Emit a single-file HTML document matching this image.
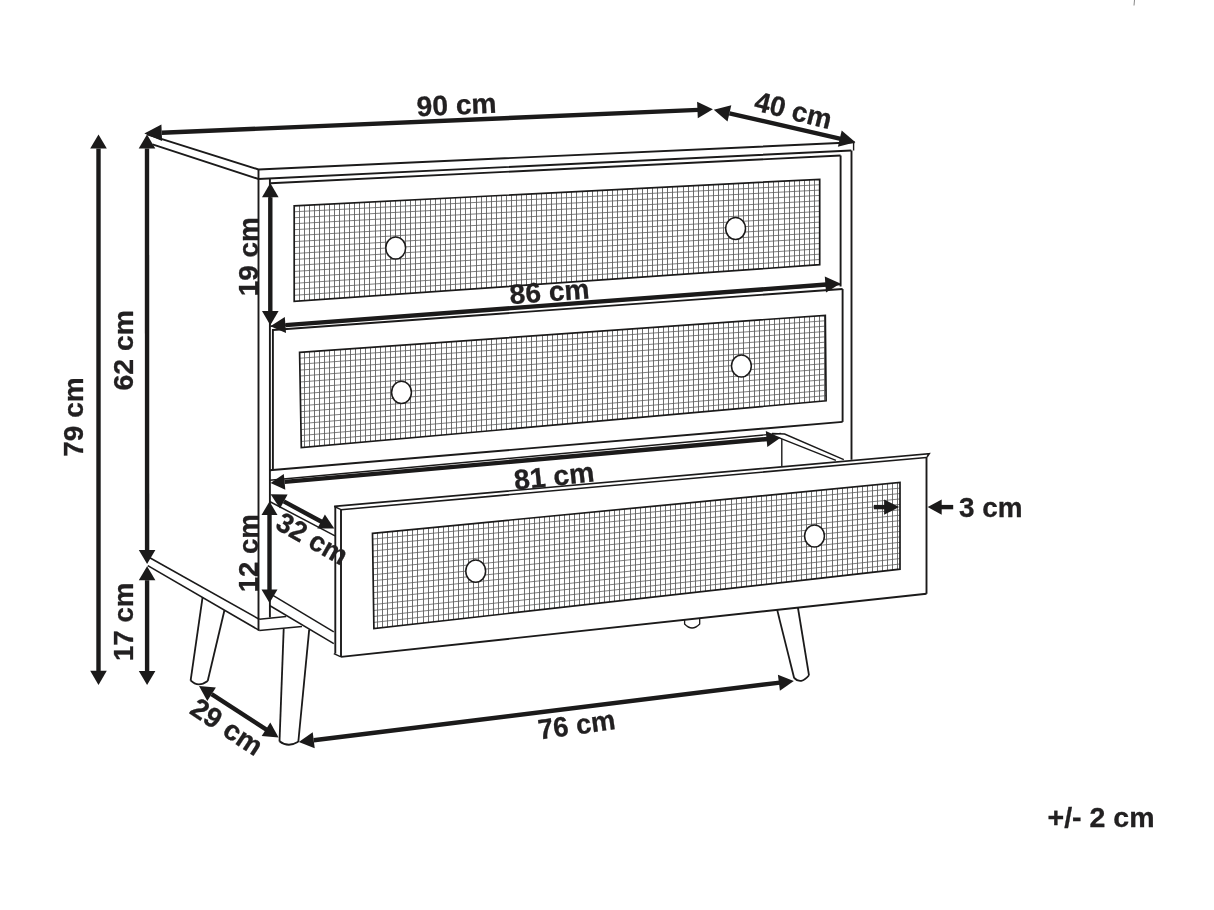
<!DOCTYPE html>
<html><head><meta charset="utf-8"><style>
html,body{margin:0;padding:0;background:#fff;width:1214px;height:910px;overflow:hidden}
svg{display:block;will-change:transform}
</style></head><body>
<svg width="1214" height="910" viewBox="0 0 1214 910">
<rect width="1214" height="910" fill="#fff"/>
<polyline points="147.0,134.4 258.5,169.5 854.6,142.3" fill="none" stroke="#1b1a1a" stroke-width="1.9" stroke-linejoin="miter"/>
<polyline points="152.5,144.4 258.5,179.0 851.3,150.5" fill="none" stroke="#1b1a1a" stroke-width="1.9" stroke-linejoin="miter"/>
<line x1="258.5" y1="169.5" x2="258.5" y2="630.6" stroke="#1b1a1a" stroke-width="1.9"/>
<line x1="853.6" y1="142.3" x2="853.6" y2="150.5" stroke="#1b1a1a" stroke-width="1.4"/>
<line x1="851.5" y1="150.5" x2="851.5" y2="459.8" stroke="#1b1a1a" stroke-width="1.9"/>
<line x1="269.9" y1="179.0" x2="269.9" y2="617.4" stroke="#1b1a1a" stroke-width="1.9"/>
<line x1="270.3" y1="183.3" x2="840.6" y2="155.5" stroke="#1b1a1a" stroke-width="1.9"/>
<line x1="840.6" y1="155.5" x2="840.6" y2="286.5" stroke="#1b1a1a" stroke-width="1.9"/>
<line x1="270.4" y1="326.2" x2="840.4" y2="284.5" stroke="#1b1a1a" stroke-width="1.6"/>
<clipPath id="cp1"><polygon points="294.2,205.9 819.7,179.3 819.7,264.7 294.2,301.4"/></clipPath>
<g clip-path="url(#cp1)"><path d="M299.50 177.3V303.4M304.50 177.3V303.4M309.50 177.3V303.4M314.50 177.3V303.4M319.50 177.3V303.4M324.50 177.3V303.4M329.50 177.3V303.4M334.50 177.3V303.4M339.50 177.3V303.4M344.50 177.3V303.4M349.50 177.3V303.4M354.50 177.3V303.4M359.50 177.3V303.4M364.50 177.3V303.4M369.50 177.3V303.4M375.50 177.3V303.4M380.50 177.3V303.4M385.50 177.3V303.4M390.50 177.3V303.4M395.50 177.3V303.4M400.50 177.3V303.4M405.50 177.3V303.4M410.50 177.3V303.4M415.50 177.3V303.4M420.50 177.3V303.4M425.50 177.3V303.4M430.50 177.3V303.4M435.50 177.3V303.4M440.50 177.3V303.4M445.50 177.3V303.4M450.50 177.3V303.4M455.50 177.3V303.4M460.50 177.3V303.4M465.50 177.3V303.4M470.50 177.3V303.4M476.50 177.3V303.4M481.50 177.3V303.4M486.50 177.3V303.4M491.50 177.3V303.4M496.50 177.3V303.4M501.50 177.3V303.4M506.50 177.3V303.4M511.50 177.3V303.4M516.50 177.3V303.4M521.50 177.3V303.4M526.50 177.3V303.4M531.50 177.3V303.4M536.50 177.3V303.4M541.50 177.3V303.4M546.50 177.3V303.4M551.50 177.3V303.4M556.50 177.3V303.4M561.50 177.3V303.4M566.50 177.3V303.4M571.50 177.3V303.4M576.50 177.3V303.4M582.50 177.3V303.4M587.50 177.3V303.4M592.50 177.3V303.4M597.50 177.3V303.4M602.50 177.3V303.4M607.50 177.3V303.4M612.50 177.3V303.4M617.50 177.3V303.4M622.50 177.3V303.4M627.50 177.3V303.4M632.50 177.3V303.4M637.50 177.3V303.4M642.50 177.3V303.4M647.50 177.3V303.4M652.50 177.3V303.4M657.50 177.3V303.4M662.50 177.3V303.4M667.50 177.3V303.4M672.50 177.3V303.4M677.50 177.3V303.4M683.50 177.3V303.4M688.50 177.3V303.4M693.50 177.3V303.4M698.50 177.3V303.4M703.50 177.3V303.4M708.50 177.3V303.4M713.50 177.3V303.4M718.50 177.3V303.4M723.50 177.3V303.4M728.50 177.3V303.4M733.50 177.3V303.4M738.50 177.3V303.4M743.50 177.3V303.4M748.50 177.3V303.4M753.50 177.3V303.4M758.50 177.3V303.4M763.50 177.3V303.4M768.50 177.3V303.4M773.50 177.3V303.4M778.50 177.3V303.4M784.50 177.3V303.4M789.50 177.3V303.4M794.50 177.3V303.4M799.50 177.3V303.4M804.50 177.3V303.4M809.50 177.3V303.4M814.50 177.3V303.4M819.50 177.3V303.4" stroke="#6e6e6e" stroke-width="1.0" fill="none"/><path d="M292.2 211.87L821.7 184.64M292.2 217.84L821.7 189.98M292.2 223.81L821.7 195.31M292.2 229.78L821.7 200.65M292.2 235.74L821.7 205.99M292.2 241.71L821.7 211.32M292.2 247.68L821.7 216.66M292.2 253.65L821.7 222.00M292.2 259.62L821.7 227.34M292.2 265.59L821.7 232.68M292.2 271.56L821.7 238.01M292.2 277.52L821.7 243.35M292.2 283.49L821.7 248.69M292.2 289.46L821.7 254.02M292.2 295.43L821.7 259.36" stroke="#5e5e5e" stroke-width="0.8" fill="none"/></g>
<polygon points="294.2,205.9 819.7,179.3 819.7,264.7 294.2,301.4" fill="none" stroke="#1b1a1a" stroke-width="1.7"/>
<ellipse cx="395.7" cy="248" rx="9.9" ry="11.1" fill="#fff" stroke="#1b1a1a" stroke-width="1.5"/>
<ellipse cx="735.6" cy="228.5" rx="9.9" ry="11.1" fill="#fff" stroke="#1b1a1a" stroke-width="1.5"/>
<line x1="272.9" y1="330.0" x2="842.6" y2="289.0" stroke="#1b1a1a" stroke-width="1.9"/>
<line x1="272.9" y1="329.0" x2="272.9" y2="470.2" stroke="#1b1a1a" stroke-width="1.9"/>
<line x1="842.6" y1="289.0" x2="842.6" y2="421.9" stroke="#1b1a1a" stroke-width="1.9"/>
<line x1="269.6" y1="470.2" x2="842.6" y2="421.9" stroke="#1b1a1a" stroke-width="1.9"/>
<clipPath id="cp2"><polygon points="299.6,352.4 825.3,315.3 826.1,400.8 301.3,447.6"/></clipPath>
<g clip-path="url(#cp2)"><path d="M304.50 313.3V449.6M309.50 313.3V449.6M314.50 313.3V449.6M319.50 313.3V449.6M324.50 313.3V449.6M329.50 313.3V449.6M334.50 313.3V449.6M340.50 313.3V449.6M345.50 313.3V449.6M350.50 313.3V449.6M355.50 313.3V449.6M360.50 313.3V449.6M365.50 313.3V449.6M370.50 313.3V449.6M375.50 313.3V449.6M380.50 313.3V449.6M385.50 313.3V449.6M390.50 313.3V449.6M395.50 313.3V449.6M400.50 313.3V449.6M405.50 313.3V449.6M410.50 313.3V449.6M415.50 313.3V449.6M420.50 313.3V449.6M425.50 313.3V449.6M430.50 313.3V449.6M435.50 313.3V449.6M441.50 313.3V449.6M446.50 313.3V449.6M451.50 313.3V449.6M456.50 313.3V449.6M461.50 313.3V449.6M466.50 313.3V449.6M471.50 313.3V449.6M476.50 313.3V449.6M481.50 313.3V449.6M486.50 313.3V449.6M491.50 313.3V449.6M496.50 313.3V449.6M501.50 313.3V449.6M506.50 313.3V449.6M511.50 313.3V449.6M516.50 313.3V449.6M521.50 313.3V449.6M526.50 313.3V449.6M531.50 313.3V449.6M536.50 313.3V449.6M542.50 313.3V449.6M547.50 313.3V449.6M552.50 313.3V449.6M557.50 313.3V449.6M562.50 313.3V449.6M567.50 313.3V449.6M572.50 313.3V449.6M577.50 313.3V449.6M582.50 313.3V449.6M587.50 313.3V449.6M592.50 313.3V449.6M597.50 313.3V449.6M602.50 313.3V449.6M607.50 313.3V449.6M612.50 313.3V449.6M617.50 313.3V449.6M622.50 313.3V449.6M627.50 313.3V449.6M632.50 313.3V449.6M637.50 313.3V449.6M642.50 313.3V449.6M648.50 313.3V449.6M653.50 313.3V449.6M658.50 313.3V449.6M663.50 313.3V449.6M668.50 313.3V449.6M673.50 313.3V449.6M678.50 313.3V449.6M683.50 313.3V449.6M688.50 313.3V449.6M693.50 313.3V449.6M698.50 313.3V449.6M703.50 313.3V449.6M708.50 313.3V449.6M713.50 313.3V449.6M718.50 313.3V449.6M723.50 313.3V449.6M728.50 313.3V449.6M733.50 313.3V449.6M738.50 313.3V449.6M743.50 313.3V449.6M749.50 313.3V449.6M754.50 313.3V449.6M759.50 313.3V449.6M764.50 313.3V449.6M769.50 313.3V449.6M774.50 313.3V449.6M779.50 313.3V449.6M784.50 313.3V449.6M789.50 313.3V449.6M794.50 313.3V449.6M799.50 313.3V449.6M804.50 313.3V449.6M809.50 313.3V449.6M814.50 313.3V449.6M819.50 313.3V449.6M824.50 313.3V449.6" stroke="#6e6e6e" stroke-width="1.0" fill="none"/><path d="M297.7 358.35L827.3 320.64M297.8 364.30L827.4 325.99M297.9 370.25L827.4 331.33M298.0 376.20L827.5 336.68M298.1 382.15L827.5 342.02M298.2 388.10L827.6 347.36M298.3 394.05L827.6 352.71M298.5 400.00L827.7 358.05M298.6 405.95L827.8 363.39M298.7 411.90L827.8 368.74M298.8 417.85L827.9 374.08M298.9 423.80L827.9 379.43M299.0 429.75L828.0 384.77M299.1 435.70L828.0 390.11M299.2 441.65L828.1 395.46" stroke="#5e5e5e" stroke-width="0.8" fill="none"/></g>
<polygon points="299.6,352.4 825.3,315.3 826.1,400.8 301.3,447.6" fill="none" stroke="#1b1a1a" stroke-width="1.7"/>
<ellipse cx="401.5" cy="392.4" rx="9.9" ry="11.1" fill="#fff" stroke="#1b1a1a" stroke-width="1.5"/>
<ellipse cx="741.4" cy="366" rx="9.9" ry="11.1" fill="#fff" stroke="#1b1a1a" stroke-width="1.5"/>
<line x1="269.6" y1="480.3" x2="781.0" y2="433.4" stroke="#1b1a1a" stroke-width="1.4"/>
<polyline points="772.0,433.4 784.6,434.1 843.8,459.6" fill="none" stroke="#1b1a1a" stroke-width="1.5" stroke-linejoin="miter"/>
<line x1="777.4" y1="437.1" x2="835.9" y2="460.4" stroke="#1b1a1a" stroke-width="1.5"/>
<line x1="781.8" y1="439.0" x2="781.8" y2="466.0" stroke="#1b1a1a" stroke-width="1.4"/>
<line x1="269.6" y1="501.5" x2="335.0" y2="535.8" stroke="#1b1a1a" stroke-width="1.5"/>
<line x1="269.6" y1="593.3" x2="333.8" y2="631.9" stroke="#1b1a1a" stroke-width="1.5"/>
<line x1="269.6" y1="605.5" x2="333.8" y2="643.7" stroke="#1b1a1a" stroke-width="1.5"/>
<polyline points="334.2,506.4 929.2,453.8 927.0,457.0" fill="none" stroke="#1b1a1a" stroke-width="1.6" stroke-linejoin="miter"/>
<line x1="341.0" y1="509.7" x2="926.5" y2="457.5" stroke="#1b1a1a" stroke-width="1.6"/>
<line x1="334.2" y1="506.4" x2="341.0" y2="509.7" stroke="#1b1a1a" stroke-width="1.4"/>
<line x1="335.3" y1="506.7" x2="335.3" y2="653.6" stroke="#1b1a1a" stroke-width="1.9"/>
<line x1="341.0" y1="509.4" x2="341.0" y2="656.9" stroke="#1b1a1a" stroke-width="1.9"/>
<line x1="333.8" y1="653.6" x2="341.0" y2="656.9" stroke="#1b1a1a" stroke-width="1.4"/>
<line x1="341.0" y1="656.9" x2="926.5" y2="593.8" stroke="#1b1a1a" stroke-width="1.9"/>
<line x1="926.5" y1="457.0" x2="926.5" y2="593.8" stroke="#1b1a1a" stroke-width="1.9"/>
<clipPath id="cp3"><polygon points="372.5,533.3 900.0,482.5 900.0,569.2 373.9,628.6"/></clipPath>
<g clip-path="url(#cp3)"><path d="M377.50 480.5V630.6M382.50 480.5V630.6M387.50 480.5V630.6M392.50 480.5V630.6M397.50 480.5V630.6M402.50 480.5V630.6M407.50 480.5V630.6M412.50 480.5V630.6M417.50 480.5V630.6M423.50 480.5V630.6M428.50 480.5V630.6M433.50 480.5V630.6M438.50 480.5V630.6M443.50 480.5V630.6M448.50 480.5V630.6M453.50 480.5V630.6M458.50 480.5V630.6M463.50 480.5V630.6M468.50 480.5V630.6M473.50 480.5V630.6M478.50 480.5V630.6M483.50 480.5V630.6M488.50 480.5V630.6M493.50 480.5V630.6M498.50 480.5V630.6M503.50 480.5V630.6M508.50 480.5V630.6M513.50 480.5V630.6M518.50 480.5V630.6M524.50 480.5V630.6M529.50 480.5V630.6M534.50 480.5V630.6M539.50 480.5V630.6M544.50 480.5V630.6M549.50 480.5V630.6M554.50 480.5V630.6M559.50 480.5V630.6M564.50 480.5V630.6M569.50 480.5V630.6M574.50 480.5V630.6M579.50 480.5V630.6M584.50 480.5V630.6M589.50 480.5V630.6M594.50 480.5V630.6M599.50 480.5V630.6M604.50 480.5V630.6M609.50 480.5V630.6M614.50 480.5V630.6M619.50 480.5V630.6M624.50 480.5V630.6M630.50 480.5V630.6M635.50 480.5V630.6M640.50 480.5V630.6M645.50 480.5V630.6M650.50 480.5V630.6M655.50 480.5V630.6M660.50 480.5V630.6M665.50 480.5V630.6M670.50 480.5V630.6M675.50 480.5V630.6M680.50 480.5V630.6M685.50 480.5V630.6M690.50 480.5V630.6M695.50 480.5V630.6M700.50 480.5V630.6M705.50 480.5V630.6M710.50 480.5V630.6M715.50 480.5V630.6M720.50 480.5V630.6M725.50 480.5V630.6M731.50 480.5V630.6M736.50 480.5V630.6M741.50 480.5V630.6M746.50 480.5V630.6M751.50 480.5V630.6M756.50 480.5V630.6M761.50 480.5V630.6M766.50 480.5V630.6M771.50 480.5V630.6M776.50 480.5V630.6M781.50 480.5V630.6M786.50 480.5V630.6M791.50 480.5V630.6M796.50 480.5V630.6M801.50 480.5V630.6M806.50 480.5V630.6M811.50 480.5V630.6M816.50 480.5V630.6M821.50 480.5V630.6M826.50 480.5V630.6M832.50 480.5V630.6M837.50 480.5V630.6M842.50 480.5V630.6M847.50 480.5V630.6M852.50 480.5V630.6M857.50 480.5V630.6M862.50 480.5V630.6M867.50 480.5V630.6M872.50 480.5V630.6M877.50 480.5V630.6M882.50 480.5V630.6M887.50 480.5V630.6M892.50 480.5V630.6M897.50 480.5V630.6" stroke="#6e6e6e" stroke-width="1.0" fill="none"/><path d="M370.6 539.26L902.0 487.92M370.7 545.21L902.0 493.34M370.8 551.17L902.0 498.76M370.9 557.12L902.0 504.18M370.9 563.08L902.0 509.59M371.0 569.04L902.0 515.01M371.1 574.99L902.0 520.43M371.2 580.95L902.0 525.85M371.3 586.91L902.0 531.27M371.4 592.86L902.0 536.69M371.5 598.82L902.0 542.11M371.5 604.77L902.0 547.53M371.6 610.73L902.0 552.94M371.7 616.69L902.0 558.36M371.8 622.64L902.0 563.78" stroke="#5e5e5e" stroke-width="0.8" fill="none"/></g>
<polygon points="372.5,533.3 900.0,482.5 900.0,569.2 373.9,628.6" fill="none" stroke="#1b1a1a" stroke-width="1.7"/>
<ellipse cx="475.7" cy="571.2" rx="9.9" ry="11.1" fill="#fff" stroke="#1b1a1a" stroke-width="1.5"/>
<ellipse cx="814.5" cy="536" rx="9.9" ry="11.1" fill="#fff" stroke="#1b1a1a" stroke-width="1.5"/>
<line x1="148.0" y1="556.8" x2="259.3" y2="619.3" stroke="#1b1a1a" stroke-width="1.6"/>
<line x1="147.8" y1="565.6" x2="259.3" y2="630.4" stroke="#1b1a1a" stroke-width="1.6"/>
<line x1="259.3" y1="619.3" x2="286.2" y2="616.4" stroke="#1b1a1a" stroke-width="1.5"/>
<line x1="259.3" y1="630.4" x2="302.0" y2="626.6" stroke="#1b1a1a" stroke-width="1.5"/>
<polyline points="202.6,597.2 190.6,680.6" fill="none" stroke="#1b1a1a" stroke-width="1.8" stroke-linejoin="miter"/>
<path d="M190.6 680.4 Q198 688 207.7 681" fill="none" stroke="#1b1a1a" stroke-width="1.8"/>
<polyline points="224.5,610.0 207.7,681.0" fill="none" stroke="#1b1a1a" stroke-width="1.8" stroke-linejoin="miter"/>
<line x1="283.7" y1="628.8" x2="279.5" y2="741.5" stroke="#1b1a1a" stroke-width="1.8"/>
<line x1="309.2" y1="629.6" x2="298.3" y2="742.0" stroke="#1b1a1a" stroke-width="1.8"/>
<path d="M279.5 741.2 Q288 748 298.3 741.8" fill="none" stroke="#1b1a1a" stroke-width="1.8"/>
<line x1="777.1" y1="609.6" x2="794.2" y2="678.2" stroke="#1b1a1a" stroke-width="1.8"/>
<line x1="797.9" y1="607.5" x2="809.0" y2="675.3" stroke="#1b1a1a" stroke-width="1.8"/>
<path d="M794.2 678 Q801 685 809 675.3" fill="none" stroke="#1b1a1a" stroke-width="1.8"/>
<path d="M684.6 619.6 V624 Q692 632 699.7 624 V617.9" fill="none" stroke="#1b1a1a" stroke-width="1.3"/>
<polygon points="98.5,685.0 90.2,670.8 106.8,670.8" fill="#1b1a1a"/>
<polygon points="98.5,134.4 106.8,148.6 90.2,148.6" fill="#1b1a1a"/>
<line x1="98.5" y1="148.6" x2="98.5" y2="671.8" stroke="#1b1a1a" stroke-width="4.4"/>
<polygon points="147.1,563.9 138.8,549.9 155.4,549.9" fill="#1b1a1a"/>
<polygon points="147.0,134.4 155.3,148.4 138.7,148.4" fill="#1b1a1a"/>
<line x1="147.0" y1="148.4" x2="147.1" y2="550.9" stroke="#1b1a1a" stroke-width="4.4"/>
<polygon points="147.1,685.0 138.8,671.0 155.4,671.0" fill="#1b1a1a"/>
<polygon points="147.1,566.2 155.4,580.2 138.8,580.2" fill="#1b1a1a"/>
<line x1="147.1" y1="580.2" x2="147.1" y2="672.0" stroke="#1b1a1a" stroke-width="4.4"/>
<polygon points="712.9,109.3 697.8,118.3 697.1,101.7" fill="#1b1a1a"/>
<polygon points="144.3,133.5 161.4,124.5 162.1,141.0" fill="#1b1a1a"/>
<line x1="161.8" y1="132.8" x2="698.4" y2="109.9" stroke="#1b1a1a" stroke-width="4.4"/>
<polygon points="855.4,142.3 837.9,146.8 841.7,130.6" fill="#1b1a1a"/>
<polygon points="713.8,109.7 731.3,105.2 727.5,121.4" fill="#1b1a1a"/>
<line x1="729.4" y1="113.3" x2="840.8" y2="138.9" stroke="#1b1a1a" stroke-width="4.4"/>
<polygon points="270.3,325.2 262.0,311.0 278.6,311.0" fill="#1b1a1a"/>
<polygon points="270.3,183.0 278.6,197.2 262.0,197.2" fill="#1b1a1a"/>
<line x1="270.3" y1="197.2" x2="270.3" y2="312.0" stroke="#1b1a1a" stroke-width="4.4"/>
<polygon points="840.4,283.5 826.0,292.6 824.8,276.6" fill="#1b1a1a"/>
<polygon points="270.4,326.2 284.8,317.1 286.0,333.1" fill="#1b1a1a"/>
<line x1="285.4" y1="325.1" x2="826.4" y2="284.5" stroke="#1b1a1a" stroke-width="4.4"/>
<polygon points="780.5,437.8 767.3,447.0 765.8,431.1" fill="#1b1a1a"/>
<polygon points="270.6,483.1 283.8,473.9 285.3,489.8" fill="#1b1a1a"/>
<line x1="284.5" y1="481.9" x2="767.6" y2="439.0" stroke="#1b1a1a" stroke-width="4.4"/>
<polygon points="334.3,528.6 317.3,528.5 324.9,514.4" fill="#1b1a1a"/>
<polygon points="270.6,494.3 287.6,494.4 280.0,508.5" fill="#1b1a1a"/>
<line x1="283.8" y1="501.4" x2="322.0" y2="522.0" stroke="#1b1a1a" stroke-width="4.4"/>
<polygon points="269.5,603.0 261.5,589.5 277.5,589.5" fill="#1b1a1a"/>
<polygon points="269.5,501.5 277.5,515.0 261.5,515.0" fill="#1b1a1a"/>
<line x1="269.5" y1="515.0" x2="269.5" y2="590.5" stroke="#1b1a1a" stroke-width="4.4"/>
<polygon points="899.1,507.1 884.1,514.8 884.1,499.4" fill="#1b1a1a"/>
<line x1="873.8" y1="507.1" x2="885.1" y2="507.1" stroke="#1b1a1a" stroke-width="4.4"/>
<polygon points="927.7,507.1 941.7,499.4 941.7,514.8" fill="#1b1a1a"/>
<line x1="953.2" y1="507.1" x2="940.7" y2="507.1" stroke="#1b1a1a" stroke-width="4.4"/>
<polygon points="278.6,737.5 261.7,736.1 270.3,722.6" fill="#1b1a1a"/>
<polygon points="199.0,686.1 215.9,687.5 207.3,701.0" fill="#1b1a1a"/>
<line x1="211.6" y1="694.2" x2="266.8" y2="729.9" stroke="#1b1a1a" stroke-width="4.4"/>
<polygon points="793.8,680.9 779.9,690.7 777.9,674.8" fill="#1b1a1a"/>
<polygon points="298.8,742.1 312.7,732.3 314.7,748.2" fill="#1b1a1a"/>
<line x1="313.7" y1="740.3" x2="779.9" y2="682.6" stroke="#1b1a1a" stroke-width="4.4"/>
<g font-family="'Liberation Sans', sans-serif" font-weight="bold" fill="#222021" stroke="#222021" stroke-width="0.3">
<text x="456.5" y="114.5" text-anchor="middle" transform="rotate(-2.50 456.5 104.6)" font-size="28" textLength="80.0" lengthAdjust="spacingAndGlyphs">90 cm</text>
<text x="793.5" y="119.9" text-anchor="middle" transform="rotate(14.00 793.5 110.0)" font-size="28" textLength="78.5" lengthAdjust="spacingAndGlyphs">40 cm</text>
<text x="73.2" y="426.9" text-anchor="middle" transform="rotate(-90.00 73.2 417.0)" font-size="28" textLength="79.5" lengthAdjust="spacingAndGlyphs">79 cm</text>
<text x="123.0" y="360.2" text-anchor="middle" transform="rotate(-90.00 123.0 350.3)" font-size="28" textLength="80.5" lengthAdjust="spacingAndGlyphs">62 cm</text>
<text x="123.5" y="631.7" text-anchor="middle" transform="rotate(-90.00 123.5 621.8)" font-size="28" textLength="78.5" lengthAdjust="spacingAndGlyphs">17 cm</text>
<text x="248.2" y="266.7" text-anchor="middle" transform="rotate(-90.00 248.2 256.8)" font-size="28" textLength="79.0" lengthAdjust="spacingAndGlyphs">19 cm</text>
<text x="248.3" y="563.1" text-anchor="middle" transform="rotate(-90.00 248.3 553.2)" font-size="28" textLength="78.0" lengthAdjust="spacingAndGlyphs">12 cm</text>
<text x="549.5" y="301.3" text-anchor="middle" transform="rotate(-4.30 549.5 291.4)" font-size="28" textLength="80.0" lengthAdjust="spacingAndGlyphs">86 cm</text>
<text x="554.0" y="485.7" text-anchor="middle" transform="rotate(-6.00 554.0 475.8)" font-size="28" textLength="80.5" lengthAdjust="spacingAndGlyphs">81 cm</text>
<text x="312.4" y="548.2" text-anchor="middle" transform="rotate(29.50 312.4 538.3)" font-size="28" textLength="77.0" lengthAdjust="spacingAndGlyphs">32 cm</text>
<text x="227.0" y="736.4" text-anchor="middle" transform="rotate(33.50 227.0 726.5)" font-size="28" textLength="80.0" lengthAdjust="spacingAndGlyphs">29 cm</text>
<text x="576.6" y="734.4" text-anchor="middle" transform="rotate(-7.80 576.6 724.5)" font-size="28" textLength="77.5" lengthAdjust="spacingAndGlyphs">76 cm</text>
<text x="990.8" y="516.5" text-anchor="middle" transform="rotate(0.00 990.8 506.6)" font-size="28" textLength="63.5" lengthAdjust="spacingAndGlyphs">3 cm</text>
<text x="1101.0" y="827.4" text-anchor="middle" transform="rotate(0.00 1101.0 817.5)" font-size="28" textLength="107.0" lengthAdjust="spacingAndGlyphs">+/- 2 cm</text>
</g>
<line x1="1134.5" y1="0.0" x2="1134.0" y2="5.5" stroke="#888" stroke-width="1"/>
</svg></body></html>
